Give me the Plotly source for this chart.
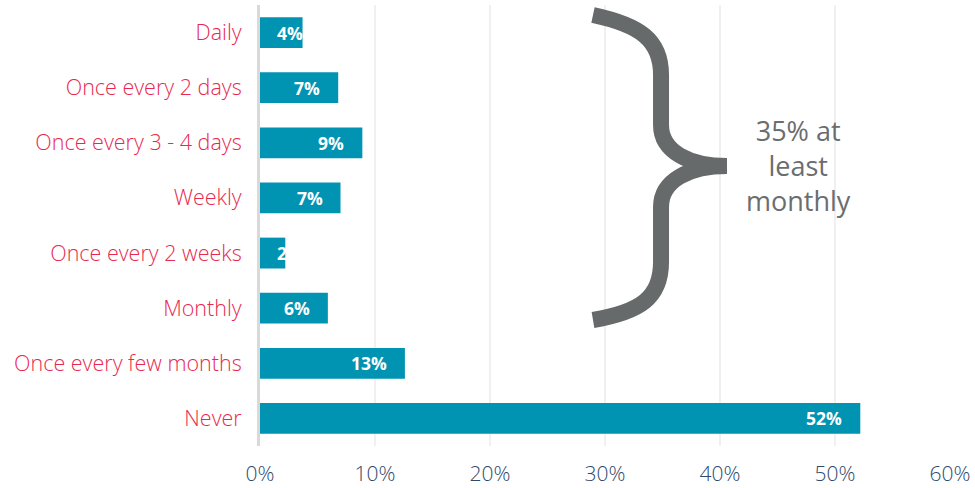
import plotly.graph_objects as go

# Survey: how often respondents do the activity (share of respondents, %)
categories = [
    "Daily",
    "Once every 2 days",
    "Once every 3 - 4 days",
    "Weekly",
    "Once every 2 weeks",
    "Monthly",
    "Once every few months",
    "Never",
]
shares = [3.7, 6.8, 8.9, 7.0, 2.2, 5.9, 12.6, 52.2]
tick_values = [0, 10, 20, 30, 40, 50, 60]
tick_labels = ["0%", "10%", "20%", "30%", "40%", "50%", "60%"]
callout_lines = ["35% at", "least", "monthly"]

BAR = "#0093b2"
LABEL_RED = "#e8294f"
TICK_NAVY = "#2d4a6d"
GREY = "#676a6a"
FONT = "Open Sans"

W, H = 975, 488
M = dict(l=260, r=25, t=5, b=42)
plot_w = W - M["l"] - M["r"]
plot_h = H - M["t"] - M["b"]

fig = go.Figure(
    go.Bar(
        x=shares,
        y=categories,
        orientation="h",
        marker=dict(color=BAR, line=dict(width=0)),
        width=0.56,
        hoverinfo="skip",
    )
)

# value labels: right-aligned inside the bar end, or from the bar start when the bar is short
for cat, v in zip(categories, shares):
    short = v < 5
    fig.add_annotation(
        x=0 if short else v,
        y=cat,
        xref="x",
        yref="y",
        text=f"<b>{v:.0f}%</b>",
        showarrow=False,
        xanchor="left" if short else "right",
        xshift=15 if short else -16,
        font=dict(family=FONT, size=17.5, color="white"),
    )


def px(x, y):
    """pixel position -> paper coordinates"""
    return (x - M["l"]) / plot_w, (M["t"] + plot_h - y) / plot_h


def pt(x, y):
    a, b = px(x, y)
    return f"{a:.4f},{b:.4f}"


# curly brace grouping the at-least-monthly answers
brace = (
    f"M {pt(593, 15)} "
    f"C {pt(640, 25)} {pt(661, 40)} {pt(661, 75)} "
    f"L {pt(661, 125)} "
    f"C {pt(661, 152)} {pt(690, 166)} {pt(727, 166)} "
    f"C {pt(690, 166)} {pt(661, 180)} {pt(661, 207)} "
    f"L {pt(661, 262)} "
    f"C {pt(661, 298)} {pt(640, 312)} {pt(593, 320)}"
)
fig.add_shape(
    type="path",
    path=brace,
    xref="paper",
    yref="paper",
    line=dict(color=GREY, width=16),
    fillcolor="rgba(0,0,0,0)",
    layer="above",
)

cx, cy = px(798, 165)
fig.add_annotation(
    x=cx,
    y=cy,
    xref="paper",
    yref="paper",
    xanchor="center",
    yanchor="middle",
    text="<br>".join(callout_lines),
    showarrow=False,
    align="center",
    font=dict(family=FONT, size=27, color="#6b6d6f"),
)

fig.update_layout(
    width=W,
    height=H,
    margin=M,
    paper_bgcolor="white",
    plot_bgcolor="white",
    showlegend=False,
    bargap=0.44,
    font=dict(family=FONT),
    xaxis=dict(
        range=[0, 60],
        tickvals=tick_values,
        ticktext=tick_labels,
        showgrid=True,
        gridcolor="#f0f0f0",
        gridwidth=2,
        zeroline=False,
        showline=False,
        ticks="",
        ticklabelstandoff=13,
        tickfont=dict(family=FONT, size=21, color=TICK_NAVY, weight=300),
        automargin=False,
        fixedrange=True,
    ),
    yaxis=dict(
        categoryorder="array",
        categoryarray=categories[::-1],
        showgrid=False,
        showline=True,
        linecolor="#d9d9d9",
        linewidth=3,
        ticks="",
        ticklabelstandoff=11,
        tickfont=dict(family=FONT, size=21.5, color=LABEL_RED, weight=300),
        automargin=False,
        fixedrange=True,
    ),
)

fig.write_html("out.html")
